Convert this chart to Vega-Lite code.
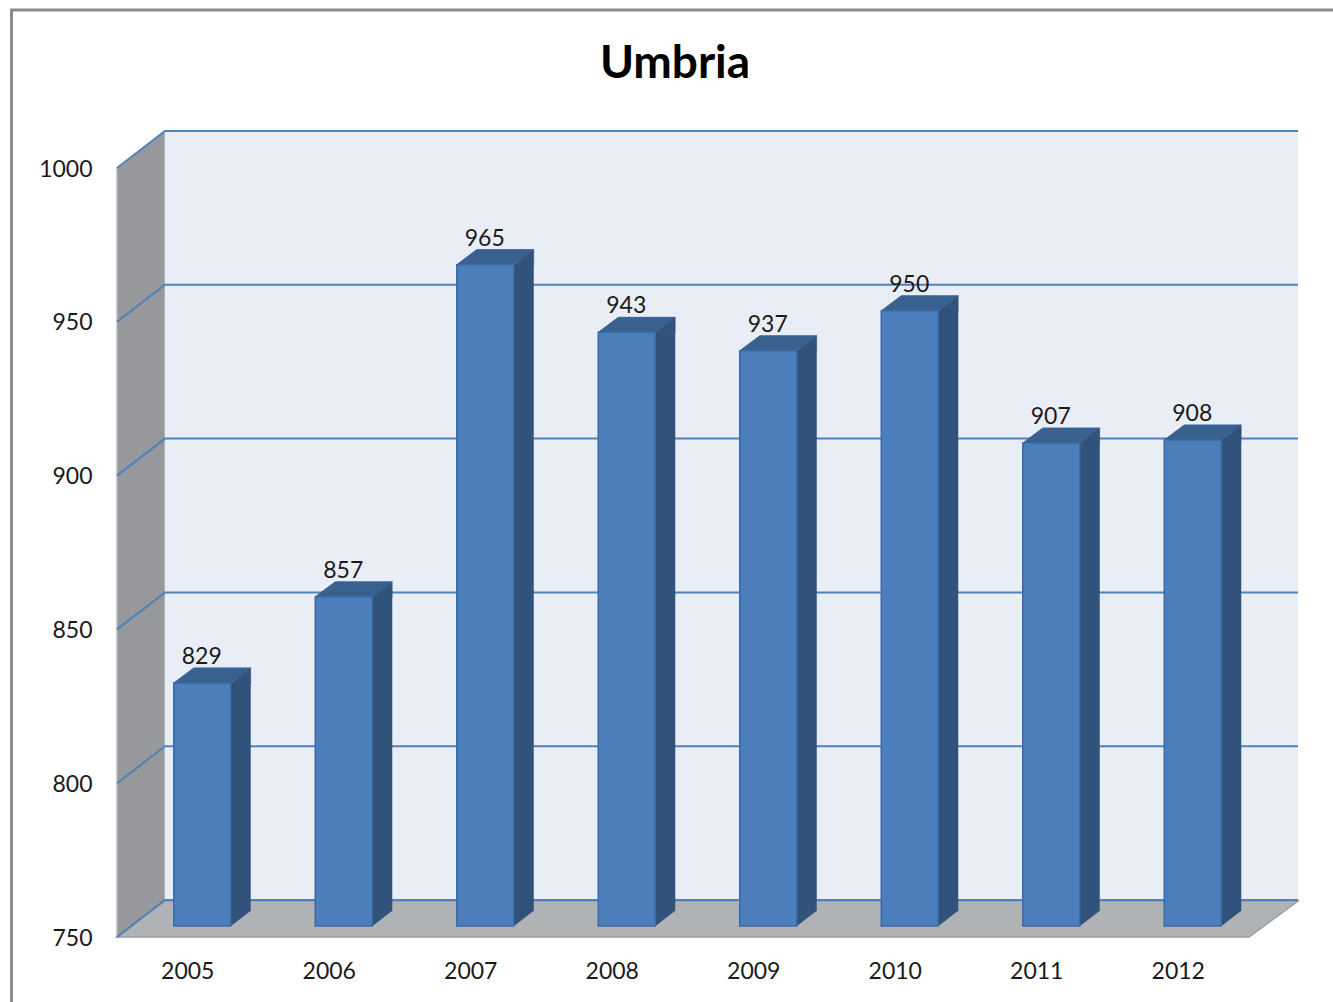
{
"$schema":"https://vega.github.io/schema/vega-lite/v6.json",
"width":1132,"height":769,
"autosize":{"type":"none"},
"padding":{"left":117,"top":168,"right":84,"bottom":65},
"background":"white",
"view":{"stroke":null},
"config":{"font":"Lato"},
"title":{"text":"Umbria","font":"Lato","fontSize":46,"fontWeight":"bold","color":"#000000","anchor":"middle","dx":-8,"offset":-106,"baseline":"middle"},
"datasets":{
 "rows":[{"year":"2005","value":829},{"year":"2006","value":857},{"year":"2007","value":965},{"year":"2008","value":943},{"year":"2009","value":937},{"year":"2010","value":950},{"year":"2011","value":907},{"year":"2012","value":908}],
 "ticks":[{"tick":750},{"tick":800},{"tick":850},{"tick":900},{"tick":950},{"tick":1000}]
},
"data":{"name":"rows"},
"encoding":{
 "x":{"field":"year","type":"nominal","title":null,
  "scale":{"domain":["2005","2006","2007","2008","2009","2010","2011","2012"],"paddingInner":0.6,"paddingOuter":0.3},
  "axis":{"labelAngle":0,"domain":false,"ticks":false,"labelPadding":23,"labelFont":"Lato","labelFontSize":23,"labelColor":"#1a1a1a"}},
 "y":{"field":"value","type":"quantitative","title":null,
  "scale":{"domain":[750,1000],"nice":false},
  "axis":{"values":[750,800,850,900,950,1000],"format":"d","grid":false,"domain":false,"ticks":false,"labelPadding":25,"labelOffset":1,"labelFont":"Lato","labelFontSize":23,"labelColor":"#1a1a1a"}}
},
"layer":[
 {"data":{"name":"ticks"},"transform":[{"filter":{"field":"tick","equal":750}}],"mark":{"type":"point","filled":false,"size":4,"opacity":1,"stroke":"#8c8c8c","strokeWidth":3,"shape":"M-176.25,80V-927H1160"},"encoding":{"x":{"datum":"2005"},"y":{"field":"tick","type":"quantitative"}}},
 {"data":{"name":"ticks"},"transform":[{"filter":{"field":"tick","equal":750}}],"mark":{"type":"point","filled":true,"size":4,"opacity":1,"fill":"#97989b","stroke":"#b9bbbe","strokeWidth":1.5,"shape":"M-70.75,-769L-22.75,-806V-36L-70.75,0Z"},"encoding":{"x":{"datum":"2005"},"y":{"field":"tick","type":"quantitative"}}},
 {"data":{"name":"ticks"},"transform":[{"filter":{"field":"tick","equal":750}}],"mark":{"type":"point","filled":true,"size":4,"opacity":1,"fill":"#e9edf6","shape":"M-22.75,-806H1110.25V-36H-22.75Z"},"encoding":{"x":{"datum":"2005"},"y":{"field":"tick","type":"quantitative"}}},
 {"data":{"name":"ticks"},"transform":[{"filter":{"field":"tick","equal":750}}],"mark":{"type":"point","filled":true,"size":4,"opacity":1,"fill":"#b0b3b6","stroke":"#9a9c9f","strokeWidth":1.5,"shape":"M-70.75,0L-22.75,-36H1110.25L1061.25,0Z"},"encoding":{"x":{"datum":"2005"},"y":{"field":"tick","type":"quantitative"}}},
 {"data":{"name":"ticks"},"mark":{"type":"point","filled":false,"size":4,"opacity":1,"stroke":"#4f81bd","strokeWidth":2,"shape":"M-70.75,0L-22.75,-37H1110.25"},"encoding":{"x":{"datum":"2005"},"y":{"field":"tick","type":"quantitative"}}},
 {"mark":{"type":"point","filled":true,"size":4,"opacity":1,"fill":"#39618f","stroke":"#3a6496","strokeWidth":1,"yOffset":-11,"shape":"M-14,0H43L63,-15H6Z"}},
 {"mark":{"type":"bar","width":20,"xOffset":53,"yOffset":-11,"y2Offset":-26,"fill":"#31527b"},"encoding":{"y2":{"datum":750}}},
 {"mark":{"type":"point","filled":true,"size":4,"opacity":1,"fill":"#31527b","stroke":"#31527b","strokeWidth":0.4,"yOffset":-11,"shape":"M43,0.5L63,-15V0.5Z"}},
 {"mark":{"type":"point","filled":true,"size":4,"opacity":1,"fill":"#31527b","stroke":"#31527b","strokeWidth":0.4,"yOffset":-11,"shape":"M43,0V-15.5H63Z"},"encoding":{"y":{"datum":750}}},
 {"mark":{"type":"bar","width":57,"xOffset":14.5,"yOffset":-11,"y2Offset":-11,"fill":"#4d7ebc","stroke":"#3a6ba5","strokeWidth":1.5},"encoding":{"y2":{"datum":750}}},
 {"mark":{"type":"text","font":"Lato","fontSize":23,"color":"#1a1a1a","xOffset":14,"dy":-30,"baseline":"alphabetic","align":"center"},"encoding":{"text":{"field":"value","type":"quantitative"}}}
]
}
